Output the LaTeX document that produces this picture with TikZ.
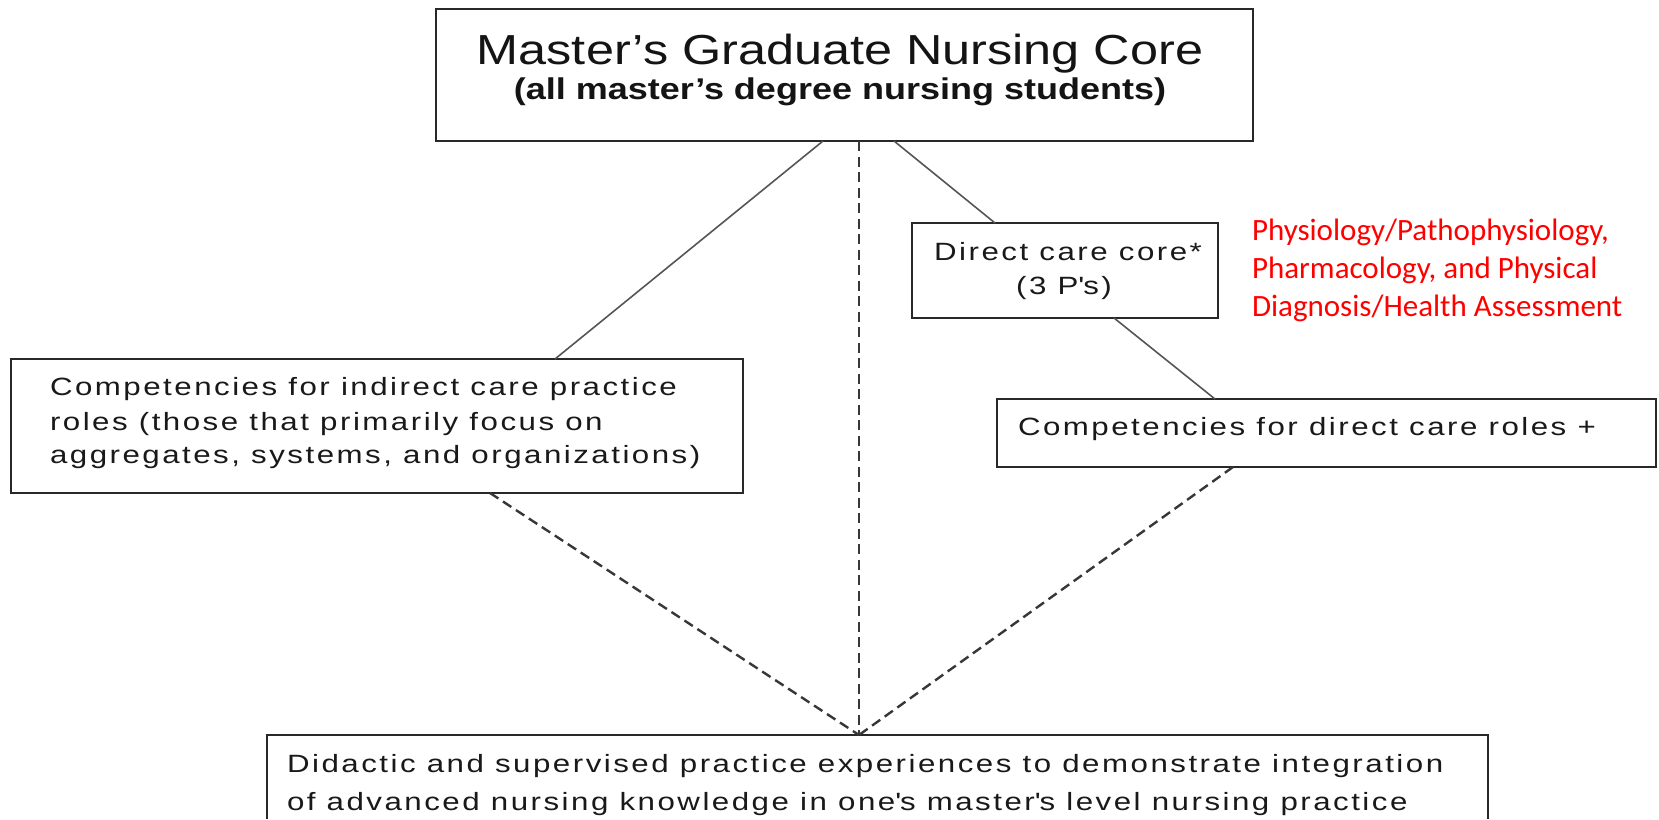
\documentclass[tikz,border=0pt]{standalone}
\usepackage{fontspec}
\setmainfont{Liberation Sans}
\newfontfamily\boxfont[FakeStretch=1.25,LetterSpace=10]{Liberation Sans}
\newfontfamily\titlefont[FakeStretch=1.2]{Liberation Sans}
\newfontfamily\notefont{Carlito}

\begin{document}
\begin{tikzpicture}[x=.5pt,y=-.5pt,
  box/.style={draw={rgb,255:red,40;green,40;blue,40},line width=1pt,inner sep=0pt,outer sep=0pt},
  txt/.style={inner sep=0pt,outer sep=0pt,anchor=base west,text={rgb,255:red,25;green,25;blue,25},font=\boxfont\fontsize{12.5}{15}\selectfont},
  note/.style={inner sep=0pt,outer sep=0pt,anchor=base west,text={rgb,255:red,255;green,0;blue,0},font=\notefont\fontsize{15.5}{18}\selectfont},
  link/.style={draw={rgb,255:red,85;green,85;blue,85},line width=0.8pt},
  dlink/.style={draw={rgb,255:red,55;green,55;blue,55},line width=1.2pt,dash pattern=on 5pt off 2.75pt}]
\path[use as bounding box] (0,0) rectangle (1659,819);
% boxes
\node[box,minimum width=408.5pt,minimum height=66.25pt] (core) at (844.5,74.75) {};
\node[box,minimum width=366pt,minimum height=67pt] (indirect) at (377,426) {};
\node[box,minimum width=153pt,minimum height=47.5pt] (directcore) at (1065,270.5) {};
\node[box,minimum width=329.5pt,minimum height=34pt] (directroles) at (1326.5,433) {};
\node[inner sep=0pt,outer sep=0pt,minimum width=610.5pt,minimum height=42pt] (practice) at (877.5,777) {};
\draw[draw={rgb,255:red,40;green,40;blue,40},line width=1pt] (practice.south west) |- (practice.north east) -- (practice.south east);
% texts
\node[inner sep=0pt,outer sep=0pt,anchor=base,text={rgb,255:red,20;green,20;blue,20},font=\titlefont\fontsize{21}{25}\selectfont] (coretitle) at (840,64) {Master’s Graduate Nursing Core};
\node[inner sep=0pt,outer sep=0pt,anchor=base,text={rgb,255:red,20;green,20;blue,20},font=\titlefont\bfseries\fontsize{15}{18}\selectfont] (coresub) at (840,99) {(all master’s degree nursing students)};
\node[txt] (ind1) at (50,395) {Competencies for indirect care practice};
\node[txt] (ind2) at (50,430) {roles (those that primarily focus on};
\node[txt] (ind3) at (50,463) {aggregates, systems, and organizations)};
\node[txt,anchor=base] (dc1) at (1068,260) {Direct care core*};
\node[txt,anchor=base] (dc2) at (1064,294) {(3 P\textquotesingle s)};
\node[txt] (dr1) at (1018,435) {Competencies for direct care roles +};
\node[txt] (pr1) at (287,772) {Didactic and supervised practice experiences to demonstrate integration};
\node[txt] (pr2) at (287,810) {of advanced nursing knowledge in one\textquotesingle s master\textquotesingle s level nursing practice};
\node[note] (p1) at (1252,240) {Physiology/Pathophysiology,};
\node[note] (p2) at (1252,278) {Pharmacology, and Physical};
\node[note] (p3) at (1252,316) {Diagnosis/Health Assessment};
% connectors
\draw[link] ([shift={(-21.5,0)}]core.south) -- ([shift={(178,0)}]indirect.north);
\draw[link] ([shift={(49.5,0)}]core.south) -- ([shift={(-70,0)}]directcore.north);
\draw[link] ([shift={(49,0)}]directcore.south) -- ([shift={(-111.5,0)}]directroles.north);
\draw[dlink] ([shift={(14.5,0)}]core.south) -- ([shift={(-18.5,0)}]practice.north);
\draw[dlink] ([shift={(113,0)}]indirect.south) -- ([shift={(-18.5,0)}]practice.north);
\draw[dlink] ([shift={(-93.5,0)}]directroles.south) -- ([shift={(-18.5,0)}]practice.north);
\end{tikzpicture}
\end{document}
